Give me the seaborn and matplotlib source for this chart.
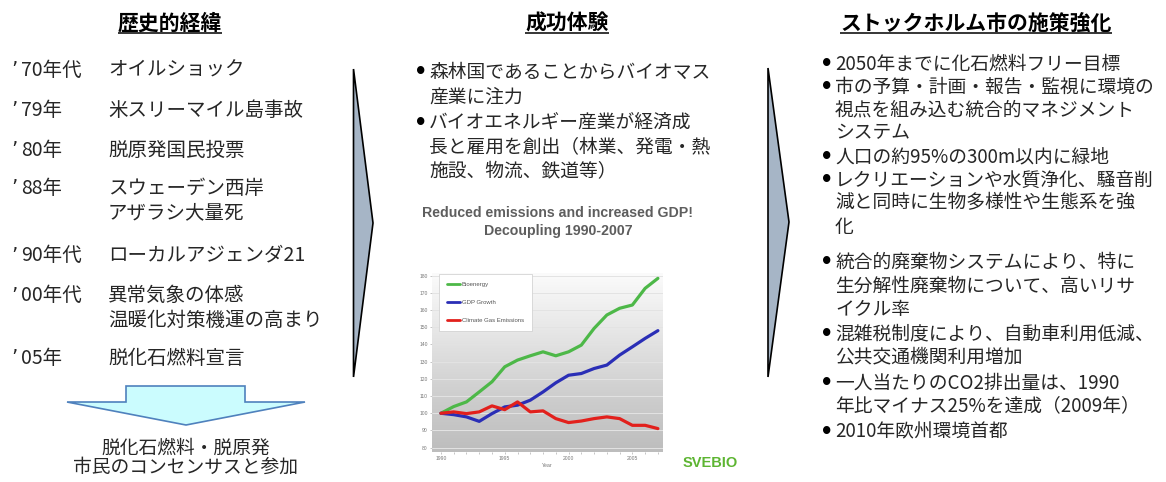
import numpy as np
import pandas as pd
import matplotlib
matplotlib.use("Agg")
import matplotlib.pyplot as plt
from matplotlib.patches import Polygon
from matplotlib.colors import LinearSegmentedColormap
import seaborn as sns

# ---------------- data ----------------
years = [1990, 1991, 1992, 1993, 1994, 1995, 1996, 1997, 1998,
         1999, 2000, 2001, 2002, 2003, 2004, 2005, 2006, 2007]
bioenergy = [100.0, 103.9, 106.6, 112.4, 118.3, 127.0, 130.9, 133.4, 135.7,
             133.4, 135.7, 139.6, 149.3, 157.1, 161.0, 162.9, 172.6, 178.4]
gdp_growth = [100.0, 99.2, 97.9, 95.3, 99.8, 103.7, 104.7, 107.6, 112.4,
              117.7, 122.1, 123.1, 126.0, 128.0, 133.8, 138.6, 143.5, 148.0]
emissions = [100.0, 100.8, 99.8, 100.8, 104.3, 102.1, 106.6, 100.8, 101.4,
             96.9, 94.6, 95.5, 96.9, 97.9, 96.9, 93.0, 93.0, 91.1]
series_names = ["Bioenergy", "GDP Growth", "Climate Gas Emissions"]
series_colors = ["#4db848", "#2a2eb6", "#e2201c"]
y_ticks = [80, 90, 100, 110, 120, 130, 140, 150, 160, 170, 180]
x_ticks = [1990, 1995, 2000, 2005]
chart_title = ["Reduced emissions and increased GDP!", "Decoupling 1990-2007"]

titles = ["歴史的経緯", "成功体験", "ストックホルム市の施策強化"]

history_years = ["70年代", "79年", "80年", "88年", "90年代", "00年代", "05年"]
history_events = [["オイルショック"], ["米スリーマイル島事故"], ["脱原発国民投票"],
                  ["スウェーデン西岸", "アザラシ大量死"], ["ローカルアジェンダ21"],
                  ["異常気象の体感", "温暖化対策機運の高まり"], ["脱化石燃料宣言"]]
outcome_lines = ["脱化石燃料・脱原発", "市民のコンセンサスと参加"]

success_lines = [(True, "森林国であることからバイオマス"), (False, "産業に注力"),
                 (True, "バイオエネルギー産業が経済成"),
                 (False, "長と雇用を創出（林業、発電・熱"), (False, "施設、物流、鉄道等）")]

policy_lines = [(True, "2050年までに化石燃料フリー目標"),
                (True, "市の予算・計画・報告・監視に環境の"),
                (False, "視点を組み込む統合的マネジメント"), (False, "システム"),
                (True, "人口の約95%の300m以内に緑地"),
                (True, "レクリエーションや水質浄化、騒音削"),
                (False, "減と同時に生物多様性や生態系を強"), (False, "化"),
                (True, "統合的廃棄物システムにより、特に"),
                (False, "生分解性廃棄物について、高いリサ"), (False, "イクル率"),
                (True, "混雑税制度により、自動車利用低減、"),
                (False, "公共交通機関利用増加"),
                (True, "一人当たりのCO2排出量は、1990"),
                (False, "年比マイナス25%を達成（2009年）"),
                (True, "2010年欧州環境首都")]

# ---------------- style ----------------
sns.set_style("white")
plt.rcParams["font.family"] = ["Noto Sans CJK JP", "DejaVu Sans"]

W, H = 1166, 482
fig = plt.figure(figsize=(W / 100, H / 100), dpi=100)
fig.patch.set_facecolor("white")

# full-figure layer in pixel coordinates for the slide text and shapes
ax0 = fig.add_axes([0, 0, 1, 1])
ax0.set_xlim(0, W)
ax0.set_ylim(H, 0)
ax0.axis("off")

renderer = fig.canvas.get_renderer()
inv = ax0.transData.inverted()


def underlined_title(x, y, s):
    t = ax0.text(x, y, s, ha="center", va="center", fontsize=15,
                 fontweight="bold", color="black")
    bb = t.get_window_extent(renderer=renderer)
    (x0, _), (x1, _) = inv.transform([[bb.x0, bb.y0], [bb.x1, bb.y1]])
    ax0.plot([x0, x1], [y + 9.5, y + 9.5], color="black", lw=1.1,
             solid_capstyle="butt")


for x, s in zip([170, 567, 976], titles):
    underlined_title(x, 23, s)

# left column: history timeline
hist_y = [70, 110, 150, 188, 255, 295, 358]
body_left = 14
for yr, events, y in zip(history_years, history_events, hist_y):
    ax0.text(11, y, "\u2019", ha="left", va="center", fontsize=body_left,
             family="DejaVu Sans")
    ax0.text(21, y, yr, ha="left", va="center", fontsize=body_left)
    for k, ev in enumerate(events):
        ax0.text(108, y + 25 * k, ev, ha="left", va="center", fontsize=body_left)

# block arrow pointing down
down_arrow = [(126, 386), (245, 386), (245, 402), (305, 402), (186, 425),
              (67, 402), (126, 402)]
ax0.add_patch(Polygon(down_arrow, closed=True, facecolor="#cbfcfe",
                      edgecolor="#4f81bd", lw=1.2, joinstyle="miter"))
for s, y in zip(outcome_lines, [448, 467]):
    ax0.text(186, y, s, ha="center", va="center", fontsize=13.5)

# chevrons between columns
for pts in ([(353.5, 69), (373, 223), (353.5, 377)],
            [(768, 68), (789, 222), (768, 377)]):
    ax0.add_patch(Polygon(pts, closed=True, facecolor="#a6b5c6",
                          edgecolor="black", lw=1.2, joinstyle="miter"))


def bullet_block(lines, ys, xb, xt, size):
    for (bullet, s), y in zip(lines, ys):
        if bullet:
            ax0.text(xb, y, "•", ha="center", va="center", fontsize=15,
                     fontweight="bold", color="black", family="DejaVu Sans")
        ax0.text(xt, y, s, ha="left", va="center", fontsize=size)


bullet_block(success_lines, [72, 97, 123, 148, 172], 421, 429, 13.5)
bullet_block(policy_lines,
             [64, 87, 110, 133, 157, 180, 203, 227, 262, 286, 309, 334, 357,
              383, 406, 432],
             827, 835, 13.5)

# chart heading
for s, y in zip(chart_title, [213, 231]):
    ax0.text(558, y, s, ha="center", va="center", fontsize=10.2,
             fontweight="bold", color="#5e5e5e", family="Liberation Sans")
ax0.text(683, 463, "SVEBIO", ha="left", va="center", fontsize=10.5,
         fontweight="bold", color="#5db532", family="Liberation Sans")

# ---------------- line chart ----------------
ax_l, ax_r, ax_t, ax_b = 432, 663, 273, 452
ax = fig.add_axes([ax_l / W, 1 - ax_b / H, (ax_r - ax_l) / W, (ax_b - ax_t) / H])
ax.set_facecolor("none")

xmin, xmax, ymin, ymax = 1989.3, 2007.4, 77.5, 181.5
grad_cmap = LinearSegmentedColormap.from_list(
    "bg", ["#bdbdbd", "#cfcfcf", "#e6e6e6", "#fbfbfb"])
grad = np.linspace(0, 1, 256).reshape(-1, 1)
ax.imshow(grad, extent=[xmin, xmax, ymin, ymax], origin="lower",
          aspect="auto", cmap=grad_cmap, zorder=0)
for v in y_ticks:
    ax.axhline(v, color="#e3e3e3", lw=0.7, zorder=1)

df = pd.DataFrame({
    "Year": years * 3,
    "Index": bioenergy + gdp_growth + emissions,
    "Series": sum([[n] * len(years) for n in series_names], []),
})
sns.lineplot(data=df, x="Year", y="Index", hue="Series", hue_order=series_names,
             palette=dict(zip(series_names, series_colors)), lw=2.3, ax=ax,
             zorder=3)

ax.set_xlim(xmin, xmax)
ax.set_ylim(ymin, ymax)
ax.set_yticks(y_ticks)
ax.set_xticks(x_ticks)
ax.set_xticks(years, minor=True)
for sp in ax.spines.values():
    sp.set_visible(False)
ax.tick_params(axis="both", which="major", labelsize=3.6, labelcolor="#777777",
               length=1.5, width=0.4, color="#999999", pad=1.5)
ax.tick_params(axis="x", which="minor", length=1.5, width=0.4, color="#999999")
ax.tick_params(axis="x", which="both", bottom=True)
ax.tick_params(axis="y", left=True)
for lab in ax.get_xticklabels() + ax.get_yticklabels():
    lab.set_family("Liberation Sans")
ax.set_xlabel("Year", fontsize=3.8, color="#777777", labelpad=1.5,
              family="Liberation Sans")
ax.set_ylabel("")

handles, labels = ax.get_legend_handles_labels()
leg = ax.legend(handles, labels, loc="upper left", bbox_to_anchor=(0.03, 0.995),
                prop={"family": "Liberation Sans", "size": 4.3},
                frameon=True, fancybox=False, edgecolor="#cccccc", framealpha=1,
                labelspacing=2.2, handlelength=2.2, handletextpad=0.3,
                borderpad=1.3, borderaxespad=0)
leg.get_frame().set_linewidth(0.5)
for line in leg.get_lines():
    line.set_linewidth(2.0)
for txt in leg.get_texts():
    txt.set_color("#555555")

fig.savefig("out.png", dpi=100, facecolor="white")
